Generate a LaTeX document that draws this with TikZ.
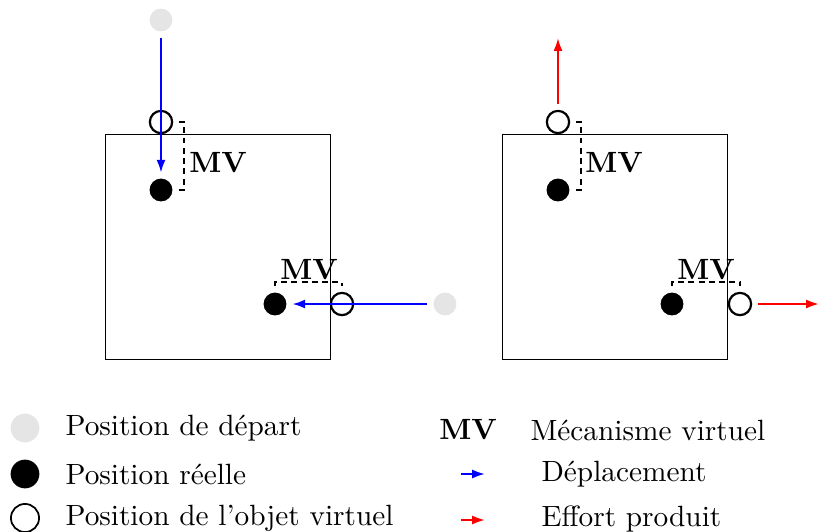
\documentclass[tikz,border=0pt]{standalone}
\usetikzlibrary{arrows.meta}
\begin{document}
\begin{tikzpicture}[x=0.012cm, y=-0.012cm,
  startpt/.style={circle, fill=gray!20, inner sep=0pt, minimum size=7.8pt},
  realpt/.style={circle, fill=black, inner sep=0pt, minimum size=7.8pt},
  virtpt/.style={circle, draw=black, line width=0.75pt, inner sep=0pt, minimum size=7.6pt},
  lstart/.style={circle, fill=gray!20, inner sep=0pt, minimum size=9.8pt},
  lreal/.style={circle, fill=black, inner sep=0pt, minimum size=9.8pt},
  lvirt/.style={circle, draw=black, line width=0.6pt, inner sep=0pt, minimum size=9.6pt},
  zone/.style={draw=black, line width=0.4pt},
  depl/.style={draw=blue, line width=0.75pt, -{Latex[length=4.4pt,width=3.1pt]}},
  effort/.style={draw=red, line width=0.75pt, -{Latex[length=4.4pt,width=3.1pt]}},
  mvlink/.style={draw=black, line width=0.7pt, dash pattern=on 2pt off 1.5pt, shorten <=2pt, shorten >=2pt},
  mvlabel/.style={font=\bfseries, inner sep=0pt},
  legtext/.style={anchor=west, inner sep=0pt}]
\useasboundingbox (0,0) rectangle (819,532);

% zones
\node[zone, minimum width=77pt, minimum height=77pt, inner sep=0pt] (zA) at (218,247) {};
\node[zone, minimum width=77pt, minimum height=77pt, inner sep=0pt] (zB) at (615,247) {};

% left panel, top
\node[startpt] (s1) at (161,20) {};
\node[virtpt] (v1) at (161,122) {};
\node[realpt] (r1) at (161,190) {};
\draw[depl, shorten <=2pt, shorten >=1.8pt] (s1) -- (r1);
\draw[mvlink] (v1.east) -- (184,122) -- (184,190) -- (r1.east);
\node[mvlabel] (mvA1) at (218,163) {MV};

% left panel, bottom
\node[realpt] (r2) at (275,304) {};
\node[virtpt] (v2) at (342,304) {};
\node[startpt] (s2) at (445,304) {};
\draw[depl, shorten <=2pt, shorten >=1.8pt] (s2) -- (r2);
\draw[mvlink] (r2.north) -- (275,282) -- (342,282) -- (v2.north);
\node[mvlabel] (mvA2) at (309,270) {MV};

% right panel, top
\node[virtpt] (v3) at (558,122) {};
\node[realpt] (r3) at (558,190) {};
\coordinate (e3) at (558,38);
\draw[effort, shorten <=2pt] (v3) -- (e3);
\draw[mvlink] (v3.east) -- (581,122) -- (581,190) -- (r3.east);
\node[mvlabel] (mvB1) at (614,163) {MV};

% right panel, bottom
\node[realpt] (r4) at (672,304) {};
\node[virtpt] (v4) at (740,304) {};
\coordinate (e4) at (819,304);
\draw[effort, shorten <=2pt] (v4) -- (e4);
\draw[mvlink] (r4.north) -- (672,282) -- (740,282) -- (v4.north);
\node[mvlabel] (mvB2) at (706,270) {MV};

% legend
\node[lstart] (ls) at (25,428) {};
\node[legtext] (lts) at (65,428) {Position de départ};
\node[lreal] (lr) at (25,474) {};
\node[legtext] (ltr) at (65,474) {Position réelle};
\node[lvirt] (lv) at (25,518) {};
\node[legtext] (ltv) at (65,518) {Position de l'objet virtuel};

\node[mvlabel] (lmv) at (468,430) {MV};
\node[legtext] (ltmv) at (530,430) {Mécanisme virtuel};
\coordinate (ld1) at (461,474);
\coordinate (ld2) at (485,474);
\draw[depl] (ld1) -- (ld2);
\node[legtext] (ltd) at (541,474) {Déplacement};
\coordinate (le1) at (461,520);
\coordinate (le2) at (485,520);
\draw[effort] (le1) -- (le2);
\node[legtext] (lte) at (541,519) {Effort produit};
\end{tikzpicture}
\end{document}
